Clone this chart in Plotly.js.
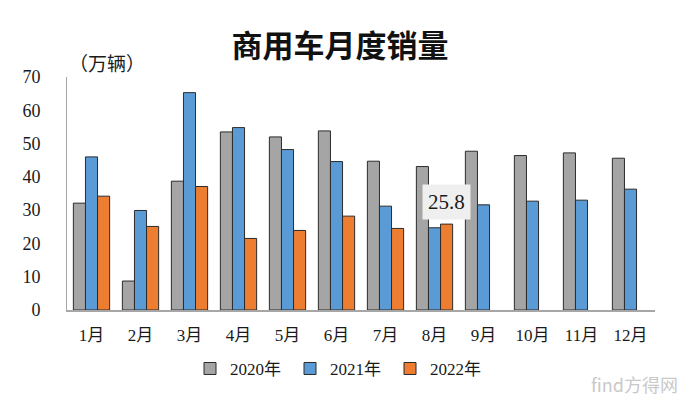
<!DOCTYPE html>
<html>
<head>
<meta charset="utf-8">
<script src="https://cdn.plot.ly/plotly-3.0.1.min.js"></script>
<style>html,body{margin:0;padding:0;background:#fff;}#chart{width:680px;height:398px;}</style>
</head>
<body>
<div id="chart"></div>
<script>
const months = ['1月','2月','3月','4月','5月','6月','7月','8月','9月','10月','11月','12月'];
const sales2020 = [32.1, 8.7, 38.7, 53.5, 52.0, 53.8, 44.7, 43.1, 47.7, 46.4, 47.2, 45.6];
const sales2021 = [46.0, 29.9, 65.3, 54.8, 48.2, 44.6, 31.2, 24.7, 31.6, 32.7, 33.0, 36.3];
const sales2022 = [34.2, 25.1, 37.1, 21.5, 23.9, 28.2, 24.5, 25.8];
const seriesNames = ['2020年','2021年','2022年'];
const seriesColors = ['#a5a5a5','#5b9bd5','#ed7d31'];
const yTicks = [0,10,20,30,40,50,60,70];

const serif = '"Liberation Serif", "Noto Sans CJK SC", serif';
const cjk = '"Noto Sans CJK SC", sans-serif';

const data = [sales2020, sales2021, sales2022].map((vals, i) => ({
  type: 'bar',
  name: seriesNames[i],
  x: months.slice(0, vals.length),
  y: vals,
  marker: {color: seriesColors[i], line: {color: '#2b2b2b', width: 1}},
  hoverinfo: 'x+y'
}));

const layout = {
  width: 680, height: 398,
  paper_bgcolor: '#ffffff', plot_bgcolor: '#ffffff',
  margin: {l: 67, r: 25, t: 77, b: 88},
  barmode: 'group', bargap: 0.26, bargroupgap: 0,
  font: {family: serif, color: '#1a1a1a', size: 16},
  title: {text: '<b>商用车月度销量</b>', font: {family: cjk, size: 31, color: '#111'}, x: 0.5, xanchor: 'center', y: 0.885, yanchor: 'middle'},
  xaxis: {
    categoryorder: 'array', categoryarray: months,
    showline: true, linecolor: '#a6a6a6', linewidth: 1.5,
    showgrid: false, ticks: '', ticklabelstandoff: 9,
    tickfont: {family: serif, size: 17, color: '#1a1a1a'}
  },
  yaxis: {
    range: [0, 70], tickvals: yTicks, ticktext: yTicks.map(String),
    showline: true, linecolor: '#a6a6a6', linewidth: 1,
    showgrid: false, zeroline: false, ticks: '', ticklabelstandoff: 22,
    tickfont: {family: serif, size: 18, color: '#1a1a1a'}
  },
  legend: {
    orientation: 'h', xref: 'container', yref: 'container',
    x: 0.5, xanchor: 'center', y: 0.073, yanchor: 'middle',
    font: {family: serif, size: 17, color: '#1a1a1a'},
    itemwidth: 30, entrywidth: 55, traceorder: 'normal'
  },
  annotations: [
    {xref: 'paper', yref: 'paper', x: 0.0, y: 1.064, xanchor: 'left', yanchor: 'middle',
     text: '（万辆）', showarrow: false, font: {family: cjk, size: 19, color: '#1a1a1a'}},
    {x: months[7], y: 32.4, xref: 'x', yref: 'y', xshift: 12,
     text: String(sales2022[7]), showarrow: false,
     bgcolor: '#efefef', borderpad: 5,
     font: {family: serif, size: 21, color: '#1a1a1a'}},
    {xref: 'paper', yref: 'paper', x: 1.043, y: -0.255, xanchor: 'right', yanchor: 'top',
     text: 'find方得网', showarrow: false, font: {family: cjk, size: 18, color: '#c9c9c9'}}
  ],
  showlegend: true
};

Plotly.newPlot('chart', data, layout, {displayModeBar: false, staticPlot: true});
</script>
</body>
</html>
